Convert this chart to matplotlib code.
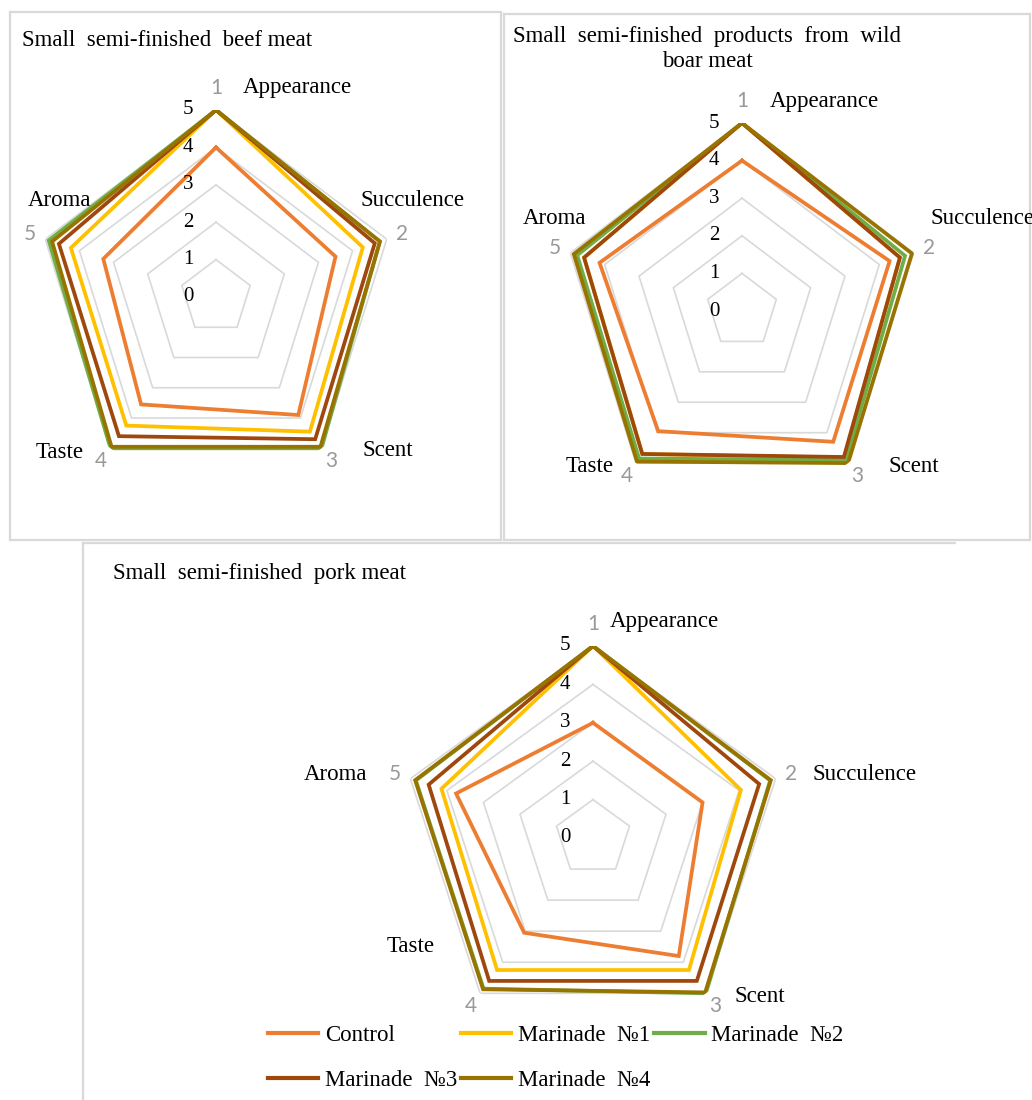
import numpy as np
import matplotlib
matplotlib.use("Agg")
import matplotlib.pyplot as plt
from matplotlib.lines import Line2D

# data (scores 0-5)
criteria = ["Appearance", "Succulence", "Scent", "Taste", "Aroma"]
series_names = ["Control", "Marinade  №1", "Marinade  №2", "Marinade  №3", "Marinade  №4"]
colors = ["#ED7D31", "#FFC000", "#70AD47", "#9E480E", "#997300"]

beef_control = [4.0, 3.5, 3.9, 3.55, 3.3]
beef_m1 = [5.0, 4.3, 4.45, 4.25, 4.25]
beef_m2 = [5.0, 4.8, 5.0, 5.0, 4.9]
beef_m3 = [5.0, 4.65, 4.7, 4.6, 4.6]
beef_m4 = [5.0, 4.8, 4.95, 4.95, 4.8]

boar_control = [4.0, 4.3, 4.3, 3.95, 4.15]
boar_m1 = [5.0, 4.6, 4.82, 4.7, 4.6]
boar_m2 = [5.0, 4.75, 4.9, 4.85, 4.8]
boar_m3 = [5.0, 4.6, 4.8, 4.7, 4.6]
boar_m4 = [5.0, 4.95, 5.0, 4.95, 4.9]

pork_control = [3.0, 3.0, 3.8, 3.05, 3.75]
pork_m1 = [5.0, 4.05, 4.25, 4.25, 4.15]
pork_m2 = [5.0, 4.85, 5.0, 4.85, 4.85]
pork_m3 = [5.0, 4.55, 4.6, 4.6, 4.5]
pork_m4 = [5.0, 4.87, 4.97, 4.87, 4.87]

levels = [0, 1, 2, 3, 4, 5]

W, H = 1032, 1100
fig = plt.figure(figsize=(W / 100, H / 100), dpi=100)
fig.patch.set_facecolor("white")

serif = ["Liberation Serif", "DejaVu Serif"]
FS = 16.5


def fx(x):
    return x / W


def fy(y):
    return 1 - y / H


def line(x0, y0, x1, y1):
    fig.add_artist(Line2D([fx(x0), fx(x1)], [fy(y0), fy(y1)], transform=fig.transFigure,
                          color="#D9D9D9", lw=1.6))


def radar(cx, cy, R, data, xs=1.0):
    # xs: horizontal squeeze of the pasted Excel picture
    Rx = R * xs
    ax = fig.add_axes([fx(cx - Rx), fy(cy + R), 2 * Rx / W, 2 * R / H], projection="polar")
    ax.set_aspect("auto")
    ax.set_theta_zero_location("N")
    ax.set_theta_direction(-1)
    ax.set_ylim(0, 5)
    ax.set_xticks([])
    ax.set_yticks([])
    ax.grid(False)
    ax.spines["polar"].set_visible(False)
    ax.patch.set_alpha(0)

    n = len(criteria)
    theta = np.linspace(0, 2 * np.pi, n, endpoint=False)
    th = np.append(theta, theta[0])

    for lv in levels[1:]:
        ax.plot(th, [lv] * (n + 1), color="#D9D9D9", lw=1.2, zorder=1)

    for vals, c in zip(data, colors):
        v = list(vals) + [vals[0]]
        ax.plot(th, v, color=c, lw=2.7, zorder=3, solid_joinstyle="miter")

    # radial scale labels
    for lv in levels:
        ax.annotate(str(lv), xy=(0, lv), xytext=(-28, 0), textcoords="offset pixels",
                    ha="center", va="center", fontsize=15, family=serif, color="black",
                    annotation_clip=False)

    # category numbers
    for i, t in enumerate(theta):
        d = 22 if i == 0 else 16
        ax.annotate(str(i + 1), xy=(t, 5), xytext=(d * np.sin(t), d * np.cos(t)),
                    textcoords="offset pixels", ha="center", va="center",
                    fontsize=15, family=["Lato", "DejaVu Sans"], color="#999999",
                    annotation_clip=False)
    return ax


def name_labels(pos):
    for name, (x, y, ha) in zip(criteria, pos):
        fig.text(fx(x), fy(y), name, ha=ha, va="center", fontsize=FS, family=serif)


# panel borders
line(10, 12, 501, 12)
line(10, 12, 10, 540)
line(10, 540, 501, 540)
line(501, 12, 501, 540)
line(504, 14, 1030, 14)
line(504, 14, 504, 540)
line(504, 540, 1030, 540)
line(1030, 14, 1030, 540)
line(83, 543, 955, 543)
line(83, 543, 83, 1100)

# beef
radar(216, 297, 187, [beef_control, beef_m1, beef_m2, beef_m3, beef_m4], xs=0.96)
fig.text(fx(22), fy(40), "Small  semi-finished  beef meat", ha="left", va="center",
         fontsize=FS, family=serif)
name_labels([(243, 87, "left"), (412, 201, "center"), (388, 451, "center"),
             (60, 453, "center"), (60, 201, "center")])

# wild boar
radar(742, 311, 188, [boar_control, boar_m1, boar_m2, boar_m3, boar_m4], xs=0.96)
fig.text(fx(707), fy(49), "Small  semi-finished  products  from  wild\nboar meat",
         ha="center", va="center", fontsize=FS, family=serif, linespacing=1.3)
name_labels([(770, 101, "left"), (930, 219, "left"), (914, 467, "center"),
             (590, 467, "center"), (555, 219, "center")])

# pork
radar(593, 838, 192, [pork_control, pork_m1, pork_m2, pork_m3, pork_m4])
fig.text(fx(113), fy(573), "Small  semi-finished  pork meat", ha="left", va="center",
         fontsize=FS, family=serif)
name_labels([(610, 621, "left"), (812, 774, "left"), (735, 997, "left"),
             (411, 946, "center"), (336, 775, "center")])

# legend, ordered so columns fill as rows
handles = [Line2D([], [], color=c, lw=3) for c in colors]
order = [0, 3, 1, 4, 2]
fig.legend([handles[i] for i in order], [series_names[i] for i in order],
           loc="upper left", bbox_to_anchor=(fx(268), fy(1025)), ncol=3,
           frameon=False, borderpad=0, borderaxespad=0, handlelength=2.2,
           handletextpad=0.3, columnspacing=0.15, labelspacing=1.05,
           prop={"family": serif, "size": FS})

fig.savefig("out.png", dpi=100, facecolor="white")
